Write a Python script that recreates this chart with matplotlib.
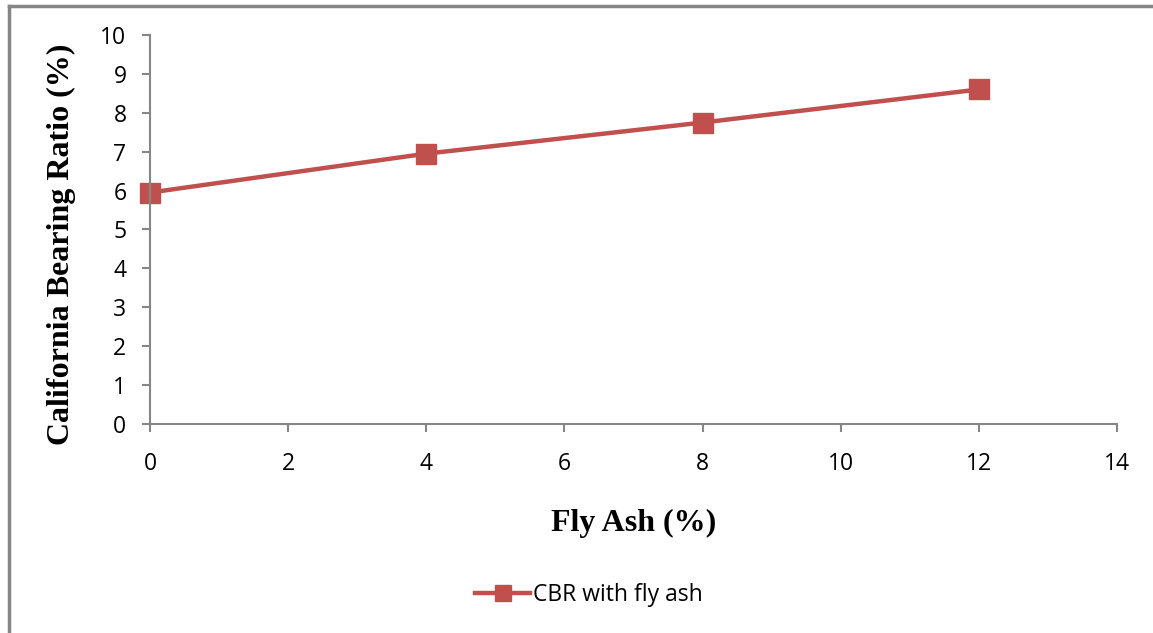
import matplotlib.pyplot as plt
from matplotlib.lines import Line2D

fly_ash = [0, 4, 8, 12]
cbr = [5.95, 6.95, 7.75, 8.6]
x_ticks = [0, 2, 4, 6, 8, 10, 12, 14]
y_ticks = [0, 1, 2, 3, 4, 5, 6, 7, 8, 9, 10]

red = '#C0504D'
grey = '#868686'

fig = plt.figure(figsize=(11.53, 6.33), dpi=100)
ax = fig.add_axes([0.1301, 0.3302, 0.8387, 0.6145])

ax.plot(fly_ash, cbr, color=red, linewidth=3.2, marker='s', markersize=14,
        markerfacecolor=red, markeredgecolor=red, label='CBR with fly ash',
        clip_on=False)

ax.set_xlim(0, 14)
ax.set_ylim(0, 10)
ax.set_xticks(x_ticks)
ax.set_yticks(y_ticks)

for side in ['top', 'right']:
    ax.spines[side].set_visible(False)
for side in ['left', 'bottom']:
    ax.spines[side].set_color(grey)
    ax.spines[side].set_linewidth(1.5)

ax.tick_params(axis='both', direction='out', length=6, width=1.5, color=grey,
               labelsize=16.5, labelcolor='black')
ax.tick_params(axis='x', pad=14)
ax.tick_params(axis='y', pad=11)
for lbl in ax.get_xticklabels() + ax.get_yticklabels():
    lbl.set_fontfamily('Open Sans')

fig.text(634 / 1153, 1 - 523 / 633, 'Fly Ash (%)', family='Liberation Serif',
         fontweight='bold', fontsize=23, ha='center', va='center')
fig.text(61 / 1153, 1 - 244 / 633, 'California Bearing Ratio (%)',
         family='Liberation Serif', fontweight='bold', fontsize=23,
         ha='center', va='center', rotation=90)

handle = Line2D([], [], color=red, linewidth=3.2, marker='s', markersize=12)
fig.legend([handle], ['CBR with fly ash'], loc='center',
           bbox_to_anchor=(589 / 1153, 1 - 595 / 633), frameon=False,
           prop={'family': 'Open Sans', 'size': 16.5}, handlelength=2.4,
           handletextpad=0.1)

# chart area border, only left and top edges show in the crop
fig.add_artist(Line2D([8.5 / 1153, 8.5 / 1153], [0, 1 - 6 / 633],
                      color=grey, linewidth=2.5, transform=fig.transFigure))
fig.add_artist(Line2D([8.5 / 1153, 1], [1 - 6 / 633, 1 - 6 / 633],
                      color=grey, linewidth=2.5, transform=fig.transFigure))

fig.savefig('out.png', dpi=100)
